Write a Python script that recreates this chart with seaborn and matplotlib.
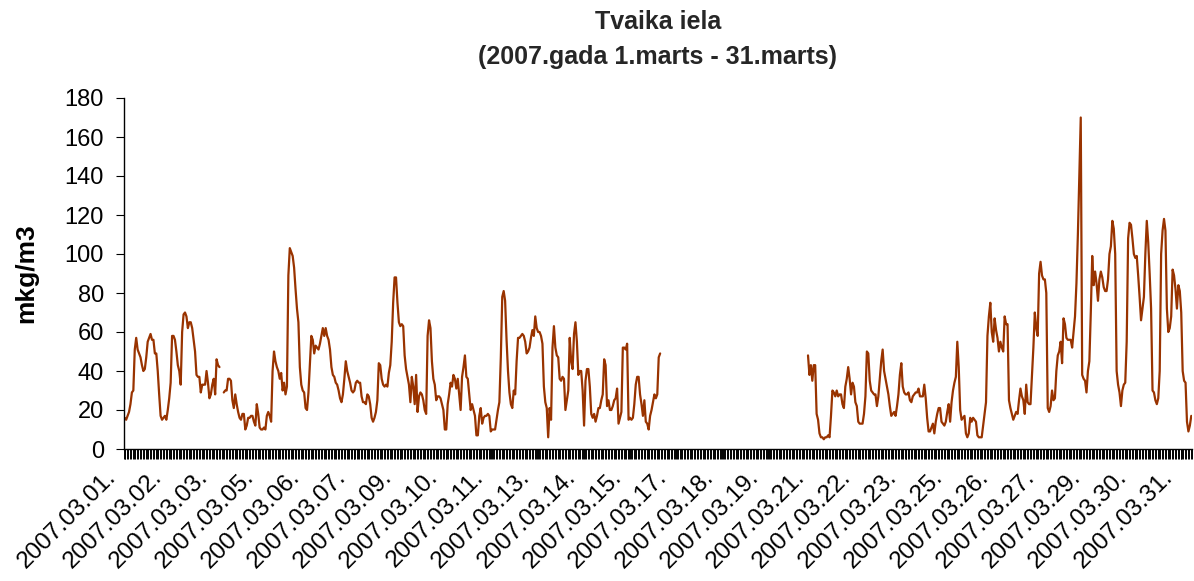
import numpy as np
import pandas as pd
import matplotlib
matplotlib.use("Agg")
import matplotlib.pyplot as plt
import seaborn as sns
from matplotlib.transforms import ScaledTranslation

NA = np.nan

# hourly concentrations, mkg/m3, one list per day of March 2007
d01 = [16, 15, 17, 19, 23, 29, 30, 51, 57, 51, 49, 47, 43, 40, 41, 47, 55, 57, 59, 56, 56, 49, 49, 40]
d02 = [28, 17, 15, 16, 17, 15, 20, 26, 34, 58, 58, 56, 50, 43, 40, 33, 60, 69, 70, 68, 62, 65, 65, 62]
d03 = [56, 50, 38, 37, 37, 29, 33, 33, 33, 40, 34, 26, 28, 33, 36, 28, 46, 43, 42, NA, NA, 29, 30, 30]
d04 = [36, 36, 35, 25, 21, 28, 23, 19, 16, 15, 18, 18, 10, 12, 16, 16, 17, 17, 14, 12, 23, 18, 11, 10]
d05 = [10, 11, 10, 17, 19, 17, 14, 40, 50, 45, 42, 40, 36, 39, 30, 34, 28, 32, 89, 103, 101, 99, 93, 82]
d06 = [72, 65, 42, 33, 30, 29, 21, 20, 29, 44, 58, 56, 49, 53, 52, 51, 54, 58, 62, 58, 62, 58, 56, 51]
d07 = [42, 38, 37, 34, 33, 30, 26, 24, 28, 36, 45, 40, 37, 34, 30, 29, 30, 34, 35, 34, 34, 27, 24, 24]
d08 = [23, 28, 27, 23, 16, 14, 16, 19, 25, 44, 43, 36, 33, 32, 33, 32, 39, 43, 55, 75, 88, 88, 75, 65]
d09 = [63, 64, 63, 48, 41, 37, 33, 24, 37, 32, 23, 38, 19, 27, 29, 28, 25, 20, 18, 58, 66, 62, 45, 36]
d10 = [33, 25, 27, 27, 26, 23, 20, 10, 10, 23, 28, 34, 32, 38, 36, 31, 36, 28, 20, 37, 42, 48, 37, 36]
d11 = [28, 20, 23, 20, 17, 7, 7, 17, 21, 13, 16, 17, 17, 18, 17, 9, 10, 10, 10, 15, 20, 24, 47, 78]
d12 = [81, 76, 56, 40, 29, 23, 21, 30, 28, 45, 57, 57, 58, 59, 58, 55, 49, 50, 52, 57, 61, 58, 68, 62]
d13 = [60, 60, 58, 54, 32, 24, 21, 6, 21, 15, 52, 63, 52, 48, 47, 36, 35, 37, 36, 20, 25, 30, 57, 45]
d14 = [41, 59, 65, 55, 38, 40, 40, 30, 12, 35, 41, 41, 32, 18, 16, 18, 14, 17, 21, 21, 25, 28, 46, 43]
d15 = [22, 25, 20, 20, 22, 25, 26, 31, 13, 16, 19, 52, 52, 51, 54, 15, 16, 15, 16, 23, 33, 37, 37, 28]
d16 = [23, 17, 25, 14, 13, 10, 17, 20, 24, 28, 26, 28, 47, 49, NA, NA, NA, NA, NA, NA, NA, NA, NA, NA]
d17 = [NA] * 24  # no measurements
d18 = [NA] * 24
d19 = [NA] * 24
d20 = [NA] * 20 + [48, 38, 43, 35]
d21 = [43, 43, 18, 15, 8, 6, 6, 5, 6, 6, 7, 6, 17, 30, 29, 27, 30, 27, 28, 28, 23, 21, 32, 36]
d22 = [42, 36, 28, 34, 32, 24, 22, 14, 13, 13, 13, 18, 27, 50, 49, 35, 30, 29, 28, 28, 22, 27, 36, 45]
d23 = [51, 40, 36, 32, 28, 22, 17, 18, 19, 17, 22, 28, 38, 44, 32, 29, 28, 28, 29, 25, 24, 27, 28, 29]
d24 = [29, 31, 27, 27, 27, 33, 26, 16, 9, 9, 11, 13, 8, 14, 18, 21, 21, 14, 13, 12, 14, 19, 23, 14]
d25 = [24, 30, 34, 37, 55, 42, 20, 15, 16, 17, 8, 6, 8, 16, 14, 16, 15, 14, 7, 6, 6, 6, 12, 18]
d26 = [24, 58, 68, 75, 60, 55, 67, 61, 57, 50, 55, 52, 50, 68, 64, 64, 25, 21, 18, 15, 17, 19, 18, 25]
d27 = [31, 27, 25, 18, 33, 24, 23, 23, 37, 52, 70, 62, 58, 90, 96, 89, 87, 87, 80, 21, 19, 22, 30, 25]
d28 = [26, 40, 48, 50, 55, 44, 67, 64, 57, 56, 56, 56, 52, 60, 68, 85, 110, 140, 170, 38, 36, 35, 29, 40]
d29 = [45, 70, 99, 84, 91, 85, 76, 87, 91, 88, 83, 81, 81, 87, 100, 104, 117, 113, 100, 40, 33, 29, 22, 30]
d30 = [33, 34, 55, 108, 116, 115, 108, 100, 98, 99, 89, 78, 66, 72, 78, 100, 117, 106, 90, 72, 30, 29, 25, 23]
d31 = [26, 40, 100, 112, 118, 112, 72, 60, 62, 68, 92, 89, 82, 72, 84, 81, 70, 40, 35, 34, 14, 9, 12, 17]

days = [d01, d02, d03, d04, d05, d06, d07, d08, d09, d10, d11, d12, d13, d14, d15, d16,
        d17, d18, d19, d20, d21, d22, d23, d24, d25, d26, d27, d28, d29, d30, d31]

# Excel showed a category label every 32 hours
LABEL_STEP = 32
LINE_COLOR = "#993300"

values = np.array([v for day in days for v in day], dtype=float)
n_hours = len(values)
df = pd.DataFrame({"hour": np.arange(n_hours), "value": values})
df["segment"] = df["value"].isna().cumsum()
df = df.dropna()

label_pos = np.arange(0, n_hours, LABEL_STEP)
label_txt = [f"2007.03.{p // 24 + 1:02d}." for p in label_pos]

sns.set_theme(style="white")
plt.rcParams["font.family"] = ["Liberation Sans", "DejaVu Sans"]

fig = plt.figure(figsize=(11.94, 5.81), dpi=100)
ax = fig.add_axes([124 / 1194, 132 / 581, 1068 / 1194, 351 / 581])

sns.lineplot(data=df, x="hour", y="value", units="segment", estimator=None,
             color=LINE_COLOR, linewidth=1.6, ax=ax, legend=False)

ax.set_xlim(-0.5, n_hours - 0.5)
ax.set_ylim(0, 180)
ax.set_yticks(range(0, 181, 20))
ax.tick_params(axis="y", left=True, labelsize=17, length=5.5, width=0.8,
               pad=9, color="black", labelcolor="black")

ax.set_xticks(label_pos)
ax.set_xticklabels(label_txt, rotation=45, ha="right", va="center",
                   rotation_mode="anchor", fontsize=17.5, color="black")
ax.set_xticks(np.arange(-0.5, n_hours, 1), minor=True)
ax.tick_params(axis="x", which="both", bottom=True, length=7, width=0.7,
               color="black", pad=11)
shift = ScaledTranslation(-0.12, 0, fig.dpi_scale_trans)
for lab in ax.get_xticklabels():
    lab.set_transform(lab.get_transform() + shift)

for side in ["top", "right"]:
    ax.spines[side].set_visible(False)
for side in ["left", "bottom"]:
    ax.spines[side].set_color("black")
    ax.spines[side].set_linewidth(1.0)

ax.set_xlabel("")
ax.set_ylabel("mkg/m3", fontsize=19, fontweight="bold", color="black")
ax.yaxis.set_label_coords(-0.08, 0.5)

fig.text(658 / 1194, 1 - 22 / 581, "Tvaika iela", ha="center", va="center",
         fontsize=18, fontweight="bold")
fig.text(658 / 1194, 1 - 57 / 581, "(2007.gada 1.marts - 31.marts)", ha="center",
         va="center", fontsize=18, fontweight="bold")

fig.savefig("out.png", dpi=100)
